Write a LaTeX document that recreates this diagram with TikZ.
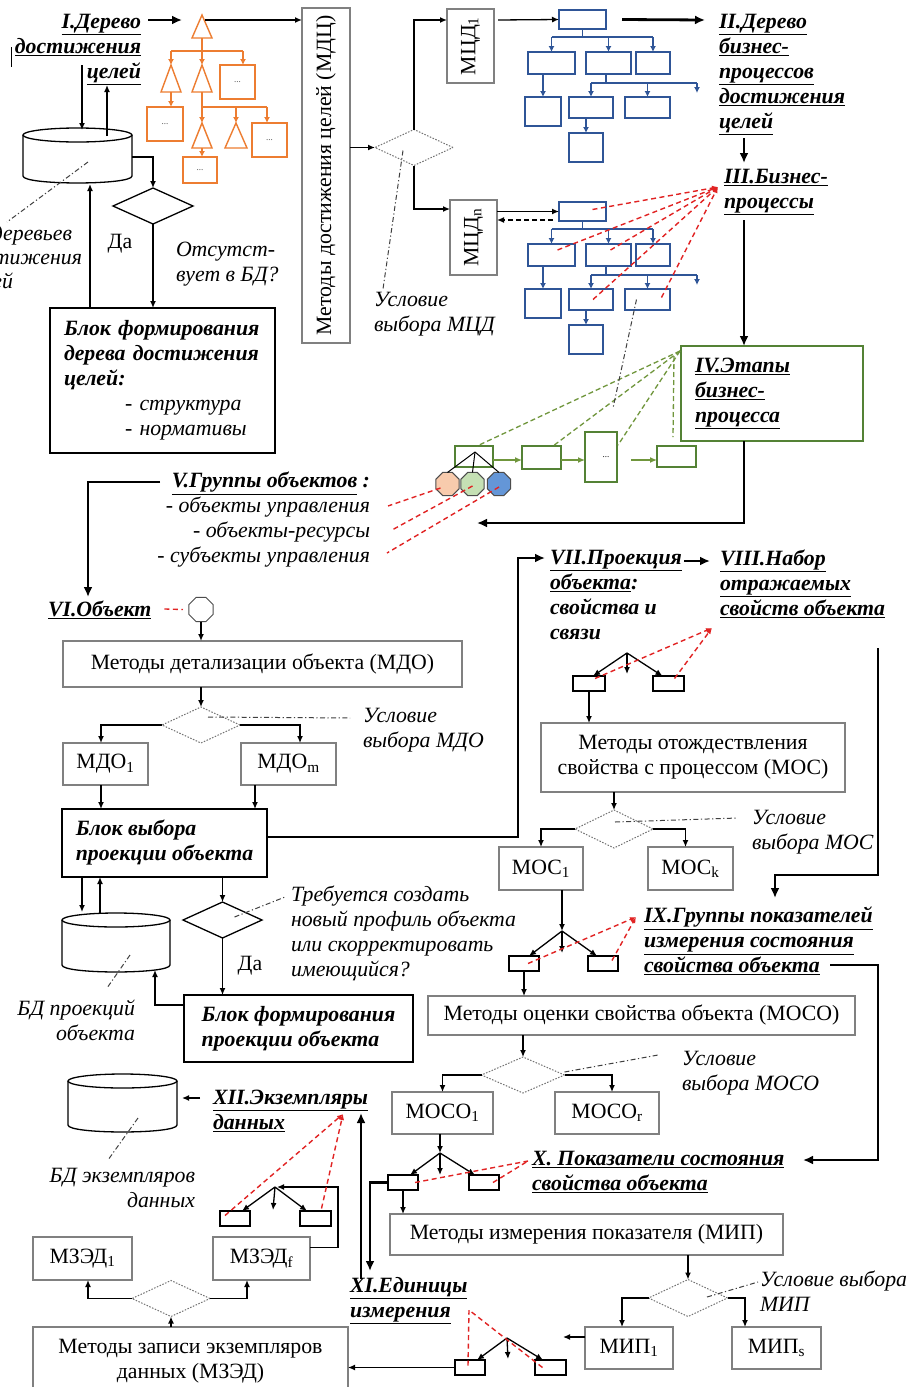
\documentclass[tikz,border=0pt]{standalone}
\usepackage{fontspec}
\setmainfont{Liberation Serif}
\usetikzlibrary{arrows.meta,shapes.geometric,calc}

\definecolor{boxgray}{RGB}{128,128,128}
\definecolor{orng}{RGB}{237,125,49}
\definecolor{bblue}{RGB}{47,85,151}
\definecolor{dgreen}{RGB}{84,130,53}
\definecolor{lgreen}{RGB}{112,150,60}
\definecolor{rdash}{RGB}{225,35,35}
\definecolor{peach}{RGB}{248,203,173}
\definecolor{pgreen}{RGB}{197,224,180}
\definecolor{pblue}{RGB}{100,150,215}

\newcommand{\mainsize}{\fontsize{21.8}{25}\selectfont}

\tikzset{
  plain0/.style={inner sep=0pt, outer sep=0pt},
  txt/.style={plain0, font=\mainsize},
  hd/.style={plain0, font=\mainsize\bfseries\itshape, align=left},
  note/.style={plain0, font=\mainsize\itshape, align=left},
  gbox/.style={txt, draw=boxgray, line width=1.2pt, align=center},
  kblk/.style={hd, draw=black, line width=1.6pt, inner xsep=14pt},
  kblk2/.style={hd, draw=black, line width=1.6pt},
  fbox/.style={plain0, draw=black, line width=1.3pt, minimum width=30pt, minimum height=15pt},
  bb/.style={plain0, draw=bblue, line width=1.5pt},
  ob/.style={plain0, draw=orng, line width=1.5pt, font=\fontsize{9}{10}\selectfont, text=black!70},
  gb/.style={plain0, draw=dgreen, line width=1.3pt},
  gdmd/.style={plain0, diamond, draw=black!55, dash pattern=on 1.5pt off 1.5pt, line width=1pt, minimum width=78pt, minimum height=36pt},
  kdmd/.style={plain0, diamond, draw=black, line width=1.3pt, minimum width=80pt, minimum height=36pt},
  oct/.style={plain0, regular polygon, regular polygon sides=8, minimum size=25pt, draw=black!70, line width=1pt},
  arr/.style={line width=1.3pt, -{Latex[length=7pt,width=6pt]}},
  tarr/.style={line width=2.8pt, -{Latex[length=10pt,width=9pt]}},
  dd/.style={line width=1pt, draw=black!75, dash pattern=on 5pt off 2.5pt on 1.2pt off 2.5pt},
  rd/.style={line width=1.4pt, draw=rdash, dash pattern=on 5pt off 3.5pt},
  rda/.style={rd, -{Latex[length=6pt,width=5pt]}},
  gd/.style={line width=1.3pt, draw=lgreen, dash pattern=on 5pt off 3pt},
  garr/.style={line width=1.3pt, draw=lgreen, -{Latex[length=7pt,width=6pt]}},
  bl/.style={line width=1.3pt, draw=bblue},
  barr/.style={bl, -{Latex[length=6pt,width=6pt]}},
  ol/.style={line width=1.4pt, draw=orng},
  oarr/.style={ol, -{Latex[length=6pt,width=6pt]}},
  pics/btree/.style={code={
    \node[bb, minimum width=47pt, minimum height=19pt] (-top) at (582.5,19.5) {};
    \node[bb, minimum width=47pt, minimum height=22pt] (-a) at (551.5,63) {};
    \node[bb, minimum width=45pt, minimum height=22pt] (-b) at (608.5,63) {};
    \node[bb, minimum width=34pt, minimum height=22pt] (-c) at (653,63) {};
    \node[bb, minimum width=36pt, minimum height=29pt] (-d) at (543,111.5) {};
    \node[bb, minimum width=44pt, minimum height=21pt] (-e) at (591,107.5) {};
    \node[bb, minimum width=45pt, minimum height=21pt] (-f) at (647.5,107.5) {};
    \node[bb, minimum width=34pt, minimum height=29pt] (-g) at (586,147.5) {};
    \coordinate (-hub) at (582.5,37);
    \coordinate (-hub2) at (606,83);
    \coordinate (-hubR) at (697,83);
    \coordinate (-free) at (697,93);
    \draw[bl] (-top.south) -- (-hub);
    \draw[bl] (-a.north |- -hub) -- (-c.north |- -hub);
    \draw[barr] (-a.north |- -hub) -- (-a.north);
    \draw[barr] (-b.north |- -hub) -- (-b.north);
    \draw[barr] (-c.north |- -hub) -- (-c.north);
    \draw[barr] (-d.north |- -a.south) -- (-d.north);
    \draw[bl] (-hub2 |- -b.south) -- (-hub2);
    \draw[bl] (-e.north |- -hub2) -- (-hubR);
    \draw[barr] (-e.north |- -hub2) -- (-e.north);
    \draw[barr] (-f.north |- -hub2) -- (-f.north);
    \draw[barr] (-hubR) -- (-free);
    \draw[barr] (-g.north |- -e.south) -- (-g.north);
  }}
}

\begin{document}
\begin{tikzpicture}[x=1pt,y=-1pt]
\useasboundingbox (0,0) rectangle (909,1387);
\fill[white] (0,0) rectangle (909,1387);

% ================= I. Goal tree and its database =================
\node[hd, align=right, anchor=north east] (hI) at (141,14)
  {\underline{I.Дерево}\\\underline{достижения}\\\underline{целей}};
\draw[line width=1pt] (11,47) -- (11,67);

\draw[line width=1.3pt] (23,135) -- (23,176) .. controls (23,185.3) and (132,185.3) .. (132,176) -- (132,135);
\draw[line width=1.3pt] (77.5,135) ellipse [x radius=54.5pt, y radius=7pt];
\coordinate (c1s) at (82,65);
\coordinate (c1in) at (82,130);
\coordinate (c1out) at (107,136);
\coordinate (c1u) at (107,85);
\coordinate (c1r) at (132,157);
\coordinate (c1b) at (90,184);
\coordinate (c1m) at (88,162);
\coordinate (c1t) at (7,222);

\begin{scope}
  \clip (0,0) rectangle (909,1387);
  \node[note, anchor=base east] (bdt1) at (72,240) {БД деревьев};
  \node[note, anchor=base east] (bdt2) at (82,264) {достижения};
  \node[note, anchor=base east] (bdt3) at (13,288) {целей};
\end{scope}
\draw[dd] (c1m) -- (c1t);

\node[kdmd] (dm1) at (153,206) {};
\node[txt] (da1) at (120,244) {Да};
\node[note, anchor=north west] (ots) at (176,242) {Отсутст-\\вует в БД?};
\node[kblk, text width=197pt, minimum height=145pt] (bf1) at (162.5,380.5)
  {Блок формирования\\дерева достижения\\целей:\\{\mdseries\hspace*{61pt}- структура}\\{\mdseries\hspace*{61pt}- нормативы}};

\draw[arr] (c1s) -- (c1in);
\draw[arr] (c1out) -- (c1u);
\draw[arr] (c1r) -| (dm1.north);
\draw[arr] (dm1.south) -- (dm1.south |- bf1.north);
\draw[arr] (c1b |- bf1.north) -- (c1b);

% orange goal tree
\coordinate (t0) at (202,15);
\coordinate (t1) at (171,65);
\coordinate (t2) at (202,65);
\coordinate (t3) at (202,123);
\coordinate (t4) at (236,123);
\draw[ol] (192,38) -- (t0) -- (212,38) -- cycle;
\draw[ol] (161,92) -- (t1) -- (181,92) -- cycle;
\draw[ol] (192,92) -- (t2) -- (212,92) -- cycle;
\draw[ol] (192,148) -- (t3) -- (212,148) -- cycle;
\draw[ol] (225,148) -- (t4) -- (247,148) -- cycle;
\node[ob, minimum width=35pt, minimum height=34pt] (ob1) at (237.5,82) {...};
\node[ob, minimum width=36pt, minimum height=34pt] (ob2) at (165,124) {...};
\node[ob, minimum width=35pt, minimum height=34pt] (ob3) at (269.5,140) {...};
\node[ob, minimum width=34pt, minimum height=26pt] (ob4) at (200,170) {...};
\draw[ol] (202,38) -- (202,51);
\draw[ol] (171,51) -- (243,51);
\draw[oarr] (171,51) -- (t1);
\draw[oarr] (202,51) -- (t2);
\draw[oarr] (243,51) -- ($(ob1.north)+(5.5,0)$);
\draw[oarr] (171,92) -- ($(ob2.north)+(6,0)$);
\draw[oarr] (202,92) -- (t3);
\draw[ol] (202,107) -- (267,107);
\draw[oarr] (236,107) -- (t4);
\draw[oarr] (267,107) -- ($(ob3.north)+(-2.5,0)$);
\draw[oarr] (202,148) -- ($(ob4.north)+(2,0)$);

\draw[tarr] ($(hI.north east)+(7,6)$) -- (182,20);

% ================= Goal achievement methods =================
\node[gbox, minimum width=48pt, minimum height=335pt] (mdc) at (326,175.5)
  {\rotatebox{90}{Методы достижения целей (МДЦ)}};
\draw[arr] (205,20) -- (mdc.west |- 0,20);
\node[gdmd] (dmc) at (414,147.5) {};
\node[gbox, minimum width=47pt, minimum height=74pt] (mcd1) at (470.5,46) {\rotatebox{90}{МЦД\textsubscript{1}}};
\node[gbox, minimum width=47pt, minimum height=75pt] (mcdn) at (473.5,237.5) {\rotatebox{90}{МЦД\textsubscript{n}}};
\node[note, anchor=north west] (ucd) at (374,292) {Условие\\выбора МЦД};
\draw[arr] (mdc.east |- dmc.west) -- (dmc.west);
\draw[arr] (dmc.north) |- (mcd1.west |- 0,20);
\draw[arr] (dmc.south) |- (mcdn.west |- 0,209);
\draw[dd] ($(dmc.center)+(-11,3)$) -- ($(ucd.north west)+(9,-3)$);

% ================= II. Business process trees =================
\pic (bt1) at (0,0) {btree};
\pic (bt2) at (0,192) {btree};
\draw[arr] ($(mcd1.east |- 0,20)+(4,0)$) -- (bt1-top.west);
\draw[arr] (mcdn.east |- bt2-top.west) -- (bt2-top.west);
\draw[arr, dash pattern=on 5pt off 3pt] ($(bt2-top.west |- 0,220)+(-6,0)$) -- (mcdn.east |- 0,220);

\node[hd, anchor=north west] (hII) at (719,14)
  {\underline{II.Дерево}\\\underline{бизнес-}\\\underline{процессов}\\\underline{достижения}\\\underline{целей}};
\draw[tarr] ($(bt1-top.east)+(16,0)$) -- ($(hII.north west)+(-14,6)$);

\node[hd, anchor=north west] (hIII) at (724,169) {\underline{III.Бизнес-}\\\underline{процессы}};
\draw[tarr] (744,138) -- (744,163);

\coordinate (p3) at (718,187);
\draw[rda] ($(bt2-top.center)+(10,-2)$) -- (p3);
\draw[rda] ($(bt2-a.center)+(6,-5)$) -- (p3);
\draw[rda] ($(bt2-b.center)+(2,-5)$) -- (p3);
\draw[rda] ($(bt2-e.center)+(2,0)$) -- (p3);
\draw[rda] ($(bt2-f.center)+(14,-2)$) -- (p3);

% ================= IV. Business process stages =================
\node[hd, draw=dgreen, line width=1.3pt, text width=154pt, inner xsep=14pt, minimum height=95pt] (b4) at (772,393.5)
  {\underline{IV.Этапы}\\\underline{бизнес-}\\\underline{процесса}};
\draw[tarr] (744,220) -- (744,0 |- b4.north);

\node[gb, minimum width=38pt, minimum height=21pt] (g1) at (474,456.5) {};
\node[gb, minimum width=39pt, minimum height=23pt] (g2) at (541.5,457.5) {};
\node[gb, minimum width=32pt, minimum height=50pt, font=\fontsize{9}{10}\selectfont] (g3) at (601,457) {\hspace*{10pt}...};
\node[gb, minimum width=39pt, minimum height=21pt] (g4) at (676.5,456.5) {};
\draw[garr] (g1.east |- 0,460) -- (g2.west |- 0,460);
\draw[garr] (g2.east |- 0,460) -- (g3.west |- 0,460);
\draw[garr] ($(g3.east |- 0,460)+(14,0)$) -- (g4.west |- 0,460);

\coordinate (p4) at ($(b4.north west)+(-1,5)$);
\draw[gd] (p4) -- ($(g1.north)+(3,0)$);
\draw[gd] (p4) -- ($(g2.north east)+(-8,0)$);
\draw[gd] (p4) -- ($(g3.north east)+(1,13)$);
\draw[gd] ($(p4)+(-6,5)$) -- ($(g4.north)+(-3.5,-9)$);
\draw[dd] ($(bt2-f.center)+(-11,0)$) -- ($(g3.north)+(12,-24)$);

\node[oct, fill=peach] (oc1) at (447.5,484) {};
\node[oct, fill=pgreen] (oc2) at (472.5,484) {};
\node[oct, fill=pblue] (oc3) at (499,484) {};
\coordinate (gf) at (475,452);
\draw[line width=1pt] (gf) -- (oc1.north);
\draw[line width=1pt] (gf) -- (oc2.north);
\draw[line width=1pt] (gf) -- (oc3.north);

\coordinate (v0) at (477,523);
\draw[tarr] ($(b4.south)+(-28,0)$) |- (v0);

% ================= V. Object groups =================
\node[hd, align=right, anchor=north east] (hV) at (370,472)
  {\underline{V.Группы объектов} :\\{\mdseries - объекты управления}\\{\mdseries - объекты-ресурсы}\\{\mdseries - субъекты управления}};
\coordinate (v1) at (388,506);
\coordinate (v2) at (392,530);
\coordinate (v3) at (387,553);
\draw[rd] ($(oc1.center)+(-7,4)$) -- (v1);
\draw[rd] ($(oc2.center)+(0,2)$) -- (v2);
\draw[rd] ($(oc3.center)+(0,3)$) -- (v3);

% ================= VI. Object =================
\node[hd, anchor=north west] (hVI) at (48,601) {\underline{VI.Объект}};
\draw[tarr] (160,482) -| (88,597);
\node[oct, fill=white, minimum size=26pt] (oct) at (201,609.5) {};
\draw[rd] ($(hVI.east)+(13,-1)$) -- ($(oct.west)+(-6,0)$);

\node[gbox, minimum width=399pt, minimum height=46pt] (mdo) at (262.5,664) {Методы детализации объекта (МДО)};
\node[gdmd] (dmdo) at (201,725) {};
\node[gbox, minimum width=85pt, minimum height=42pt] (mdo1) at (105.5,764) {МДО\textsubscript{1}};
\node[gbox, minimum width=95pt, minimum height=42pt] (mdom) at (288.5,764) {МДО\textsubscript{m}};
\node[note, anchor=north west] (umdo) at (363,708) {Условие\\выбора МДО};
\node[kblk2, minimum width=205pt, minimum height=68pt] (bvyb) at (164.5,843) {Блок выбора\\проекции объекта};

\draw[arr] (oct.south) -- (oct.south |- mdo.north);
\draw[arr] (dmdo.north |- mdo.south) -- (dmdo.north);
\coordinate (a1) at ($(mdo1.north)+(-4.5,0)$);
\coordinate (a2) at ($(mdom.north)+(11.5,0)$);
\draw[arr] (dmdo.west) -| (a1);
\draw[arr] (dmdo.east) -| (a2);
\coordinate (a3) at ($(mdo1.south)+(-4.5,0)$);
\coordinate (a4) at ($(mdom.south)+(-33.5,0)$);
\draw[arr] (a3) -- (a3 |- bvyb.north);
\draw[arr] (a4) -- (a4 |- bvyb.north);
\draw[dd] ($(dmdo.center)+(7,-8)$) -- ($(umdo.north west)+(-13,10)$);

% projection database
\draw[line width=1.3pt] (62,920) -- (62,965) .. controls (62,974.3) and (170,974.3) .. (170,965) -- (170,920);
\draw[line width=1.3pt] (116,920) ellipse [x radius=54pt, y radius=7pt];
\coordinate (c2in) at (82,912);
\coordinate (c2out) at (100,913);
\coordinate (c2b) at (155,970);
\coordinate (c2m) at (130,955);
\coordinate (c2t) at (107,988);
\draw[arr] (c2in |- bvyb.south) -- (c2in);
\draw[arr] (c2out) -- (c2out |- bvyb.south);
\draw[dd] (c2m) -- (c2t);
\node[note, align=right, anchor=north east] (bdpr) at (135,1000) {БД проекций\\объекта};

\node[kdmd, minimum width=79pt] (dm2) at (222.5,920) {};
\node[txt] (da2) at (250,966) {Да};
\node[note, anchor=north west] (treb) at (291,886)
  {Требуется создать\\новый профиль объекта\\или скорректировать\\имеющийся?};
\node[kblk2, minimum width=229pt, minimum height=67pt] (bfp) at (298.5,1028.5) {Блок формирования\\проекции объекта};
\draw[arr] (dm2.north |- bvyb.south) -- (dm2.north);
\draw[arr] (dm2.south) -- (dm2.south |- bfp.north);
\draw[arr] ($(bfp.west)+(0,-23.5)$) -| (c2b);
\draw[dd] ($(dm2.center)+(12,-3)$) -- ($(treb.north west)+(-6,11)$);

% ================= VII / VIII. Projection and properties =================
\node[hd, anchor=north west] (hVII) at (550,550)
  {\underline{VII.Проекция}\\\underline{объекта}:\\свойства и\\связи};
\node[hd, anchor=north west] (hVIII) at (720,550)
  {\underline{VIII.Набор}\\\underline{отражаемых}\\\underline{свойств объекта}};
\coordinate (c7) at (518,558);
\draw[tarr] ($(bvyb.east)+(0,-6)$) -| (c7) -- ($(hVII.north west)+(-5,8)$);
\draw[tarr] (684,561) -- ($(hVIII.north west)+(-10,11)$);

\coordinate (f8) at (627,653);
\node[fbox, minimum width=32pt] (f8l) at (589,683.5) {};
\node[fbox, minimum width=31pt] (f8r) at (668.5,683.5) {};
\coordinate (f8m) at (627,674);
\draw[arr] (f8) -- ($(f8l.north)+(4,0)$);
\draw[arr] (f8) -- (f8m);
\draw[arr] (f8) -- ($(f8r.north)+(-6,0)$);
\coordinate (p8) at (712,628);
\draw[rda] ($(f8l.center)+(6,-5)$) -- (p8);
\draw[rda] ($(f8r.center)+(6,-5)$) -- (p8);

\node[gbox, minimum width=304pt, minimum height=69pt] (mos) at (693,757.5) {Методы отождествления\\свойства с процессом (МОС)};
\draw[arr] (f8l.south) -- (f8l.south |- mos.north);
\node[gdmd, minimum height=38pt] (dms) at (614,829) {};
\node[gbox, minimum width=84pt, minimum height=43pt] (mos1) at (541,868.5) {МОС\textsubscript{1}};
\node[gbox, minimum width=85pt, minimum height=43pt] (mosk) at (690.5,868.5) {МОС\textsubscript{k}};
\node[note, anchor=north west] (umos) at (752,810) {Условие\\выбора МОС};
\draw[arr] (dms.north |- mos.south) -- (dms.north);
\draw[arr] (dms.west) -| (mos1.north);
\draw[arr] (dms.east) -| ($(mosk.north)+(-5,0)$);
\draw[dd] ($(dms.center)+(1,-7)$) -- ($(umos.north west)+(-14,8)$);

% ================= IX. Indicator groups =================
\node[hd, anchor=north west] (hIX) at (644,907)
  {\underline{IX.Группы показателей}\\\underline{измерения состояния}\\\underline{свойства объекта}};
\coordinate (s8) at (878,648);
\coordinate (s8b) at (878,875);
\draw[tarr] (s8) -- (s8b) -| ($(hIX.north west)+(131,-9)$);

\coordinate (f9) at (562,931);
\node[fbox] (f9l) at (524,963.5) {};
\node[fbox] (f9r) at (603,963.5) {};
\coordinate (f9m) at (562,953);
\draw[arr] (f9 |- mos1.south) -- (f9);
\draw[arr] (f9) -- ($(f9l.north)+(5,0)$);
\draw[arr] (f9) -- (f9m);
\draw[arr] (f9) -- ($(f9r.north)+(-6,0)$);
\coordinate (p9) at (636,917);
\draw[rda] ($(f9l.center)+(4,0)$) -- (p9);
\draw[rda] ($(f9r.center)+(9,-3)$) -- (p9);

\node[gbox, minimum width=427pt, minimum height=39pt] (moso) at (641.5,1015.5) {Методы оценки свойства объекта (МОСО)};
\draw[arr] (f9l.south) -- (f9l.south |- moso.north);
\node[gdmd, minimum width=83pt] (dmoso) at (523,1075) {};
\node[gbox, minimum width=101pt, minimum height=42pt] (moso1) at (442.5,1113) {МОСО\textsubscript{1}};
\node[gbox, minimum width=104pt, minimum height=42pt] (mosor) at (607,1113) {МОСО\textsubscript{r}};
\node[note, anchor=north west] (umoso) at (682,1051) {Условие\\выбора МОСО};
\draw[arr] (dmoso.north |- moso.south) -- (dmoso.north);
\draw[arr] (dmoso.west) -| (moso1.north);
\draw[arr] (dmoso.east) -| ($(mosor.north)+(5,0)$);
\draw[dd] ($(dmoso.east)+(0,-3)$) -- ($(umoso.north west)+(-24,4)$);

% ================= X. Indicators =================
\node[hd, anchor=north west] (hX) at (532,1151)
  {\underline{X. Показатели состояния}\\\underline{свойства объекта}};
\coordinate (s9) at (830,965);
\coordinate (s9r) at (878,965);
\draw[tarr] (s9) -- (s9r) |- (803,1160);

\coordinate (f10) at (440,1153);
\node[fbox] (f10l) at (403,1182.5) {};
\node[fbox] (f10r) at (484,1182.5) {};
\coordinate (f10m) at (440,1175);
\draw[arr] (f10 |- moso1.south) -- (f10);
\draw[arr] (f10) -- ($(f10l.north)+(7,0)$);
\draw[arr] (f10) -- (f10m);
\draw[arr] (f10) -- ($(f10r.north)+(-9,0)$);
\coordinate (p10) at (528,1161);
\draw[rd] ($(f10l.center)+(12,0)$) -- (p10);
\draw[rd] ($(f10r.center)+(9,0)$) -- (p10);

\node[gbox, minimum width=393pt, minimum height=41pt] (mip) at (586.5,1234.5) {Методы измерения показателя (МИП)};
\draw[arr] (f10l.south) -- (f10l.south |- mip.north);
\node[gdmd, minimum width=79pt, minimum height=37pt] (dmip) at (688,1298) {};
\node[gbox, minimum width=88pt, minimum height=42pt] (mip1) at (629,1348) {МИП\textsubscript{1}};
\node[gbox, minimum width=89pt, minimum height=42pt] (mips) at (776.5,1348) {МИП\textsubscript{s}};
\node[note, anchor=north west] (umip) at (760,1271) {Условие выбора\\МИП};
\draw[arr] (dmip.north |- mip.south) -- (dmip.north);
\draw[arr] (dmip.west) -| ($(mip1.north)+(-7,0)$);
\draw[arr] (dmip.east) -| ($(mips.north)+(-31.5,0)$);
\draw[dd] ($(dmip.center)+(19,-1)$) -- ($(umip.north west)+(-2,11)$);

% ================= XI. Units of measurement =================
\node[hd, anchor=north west] (hXI) at (350,1277) {\underline{XI.Единицы}\\\underline{измерения}};
\draw[tarr] (f10l.west) -| (370,1271);

\coordinate (f11) at (507,1338);
\node[fbox] (f11l) at (470,1367.5) {};
\node[fbox, minimum width=31pt] (f11r) at (550.5,1367.5) {};
\coordinate (f11m) at (508,1359);
\draw[arr] (f11) -- ($(f11l.north)+(7,0)$);
\draw[arr] (f11) -- (f11m);
\draw[arr] (f11) -- ($(f11r.north)+(-7.5,0)$);
\draw[arr] (mip1.west |- 0,1337) -- (563,1337);
\coordinate (p11) at (469,1310);
\draw[rd] ($(f11l.center)+(-2,-2)$) -- (p11);
\draw[rd] ($(f11r.center)+(-8,0)$) -- (p11);

% ================= XII. Data instances =================
\node[gbox, minimum width=315pt, minimum height=68pt] (mzed) at (190.5,1361) {Методы записи экземпляров\\данных (МЗЭД)};
\draw[arr] (f11l.west) -- (mzed.east |- f11l.west);
\node[gdmd] (dmz) at (171,1298.5) {};
\node[gbox, minimum width=99pt, minimum height=43pt] (mzed1) at (82.5,1258.5) {МЗЭД\textsubscript{1}};
\node[gbox, minimum width=97pt, minimum height=43pt] (mzedf) at (261.5,1258.5) {МЗЭД\textsubscript{f}};
\draw[arr] (dmz.south |- mzed.north) -- (dmz.south);
\draw[arr] (dmz.west) -| ($(mzed1.south)+(5.5,0)$);
\draw[arr] (dmz.east) -| ($(mzedf.south)+(-14.5,0)$);

\node[hd, anchor=north west] (hXII) at (213,1090) {\underline{XII.Экземпляры}\\\underline{данных}};
\draw[tarr] (361,1279) -- (361,1113);

\coordinate (f12) at (275,1187);
\node[fbox] (f12l) at (235,1218.5) {};
\node[fbox, minimum width=31pt] (f12r) at (315.5,1218.5) {};
\coordinate (f12m) at (273,1210);
\draw[arr] (f12) -- ($(f12l.north)+(7,0)$);
\draw[arr] (f12) -- (f12m);
\draw[arr] (f12) -- ($(f12r.north)+(-8.5,0)$);
\draw[arr] ($(mzedf.east)+(0,-11)$) -| ($(f12)+(63,0)$) -- ($(f12)+(2,0)$);
\coordinate (p12) at (343,1114);
\draw[rda] ($(f12l.center)+(-10,-3)$) -- (p12);
\draw[rda] ($(f12r.center)+(6,-10)$) -- (p12);

% data instance database
\draw[line width=1.3pt] (68,1081) -- (68,1125) .. controls (68,1134.3) and (177,1134.3) .. (177,1125) -- (177,1081);
\draw[line width=1.3pt] (122.5,1081) ellipse [x radius=54.5pt, y radius=7pt];
\coordinate (c3r) at (182,1098);
\coordinate (c3m) at (138,1118);
\coordinate (c3t) at (108,1160);
\draw[arr] ($(hXII.north west)+(-13,8)$) -- (c3r);
\draw[dd] (c3m) -- (c3t);
\node[note, align=right, anchor=north east] (bdex) at (195,1168) {БД экземпляров\\данных};

\end{tikzpicture}
\end{document}
